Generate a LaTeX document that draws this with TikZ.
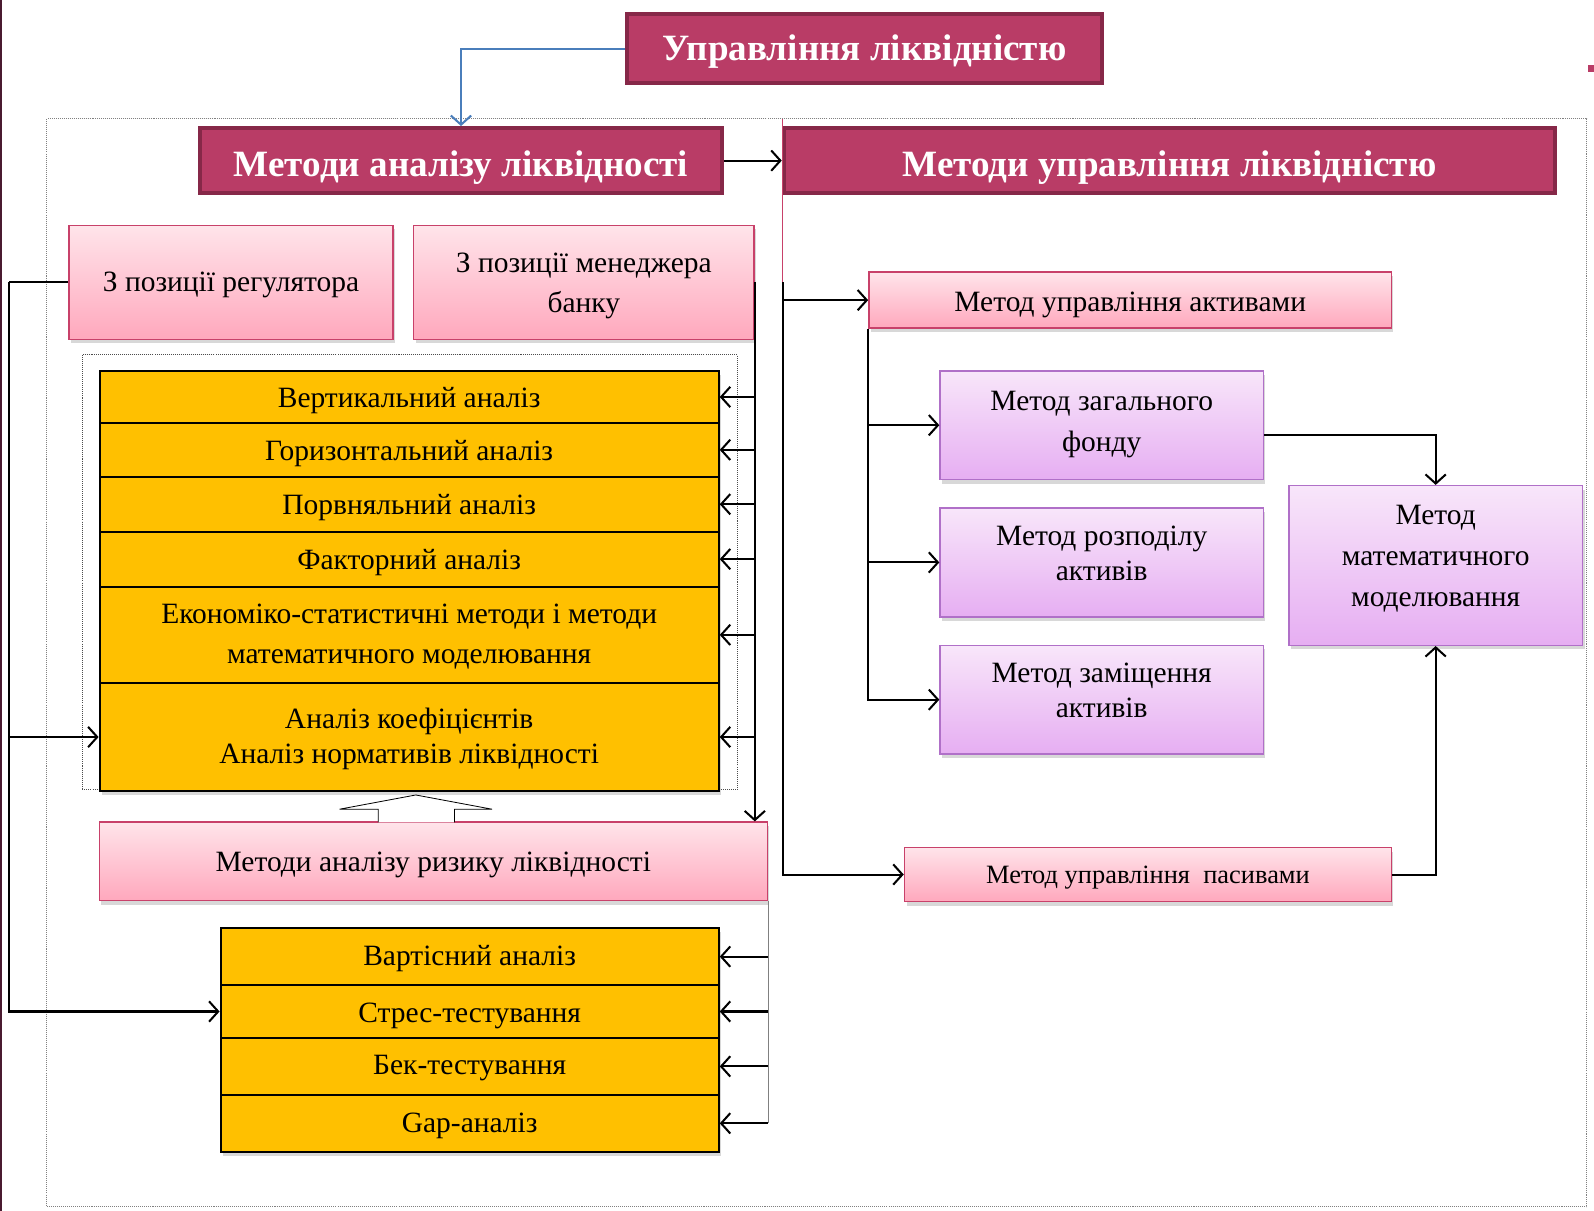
\documentclass[tikz,border=0pt]{standalone}
\usepackage{fontspec}
\setmainfont{Liberation Serif}
\usetikzlibrary{arrows.meta,shadows,calc}
\definecolor{titlefill}{HTML}{B93C66}
\definecolor{titleborder}{HTML}{862848}
\definecolor{pinktop}{HTML}{FFE4EA}
\definecolor{pinkbot}{HTML}{FFA8BD}
\definecolor{pinkborder}{HTML}{C8416A}
\definecolor{purptop}{HTML}{F8E6FA}
\definecolor{purpbot}{HTML}{E6AEF2}
\definecolor{purpborder}{HTML}{B070C8}
\definecolor{ygold}{HTML}{FFC000}
\definecolor{bluelink}{HTML}{4A7EBB}
\definecolor{edgedark}{HTML}{4A1A30}
\newcommand\bodyfnt{\fontsize{29}{40}\selectfont}
\newcommand\smallfnt{\fontsize{26}{34}\selectfont}
\newcommand\titlefnt{\fontsize{36.5}{40}\selectfont\bfseries}
\newcommand\tx[2]{\raisebox{#1}[\height][\depth]{\begin{tabular}{@{}c@{}}#2\end{tabular}}}
\begin{document}
\begin{tikzpicture}[x=1pt,y=-1pt,
  boxbase/.style={inner sep=0pt, anchor=north west, align=center},
  titlebox/.style={boxbase, draw=titleborder, line width=4pt, fill=titlefill, text=white, font=\titlefnt},
  pinkbox/.style={boxbase, draw=pinkborder, line width=1.5pt, top color=pinktop, bottom color=pinkbot, font=\bodyfnt,
     drop shadow={shadow xshift=2pt, shadow yshift=-4pt, opacity=0.3, fill=gray}},
  purpbox/.style={boxbase, draw=purpborder, line width=1.5pt, top color=purptop, bottom color=purpbot, font=\bodyfnt,
     drop shadow={shadow xshift=2pt, shadow yshift=-4pt, opacity=0.3, fill=gray}},
  ybox/.style={boxbase, draw=black, line width=2pt, fill=ygold, font=\bodyfnt,
     drop shadow={shadow xshift=2pt, shadow yshift=-4pt, opacity=0.3, fill=gray}},
  conn/.style={draw=black, line width=2pt, -{Straight Barb[length=9pt,width=20pt,line width=2pt]}},
  line/.style={draw=black, line width=2pt}
]
\useasboundingbox (0,0) rectangle (1568,1191);
\fill[white] (0,0) rectangle (1568,1191);
% slide decorations
\draw[edgedark, line width=2pt] (1,0) -- (1,1191);
\fill[titlefill] (1562,64) rectangle (1568,71);
% frames
\draw[gray, densely dotted, line width=1pt] (46,117) rectangle (1561,1187);
\draw[black!70, densely dotted, line width=1pt] (81,349) rectangle (725,777);

% titles
\node[titlebox, minimum width=467pt, minimum height=68pt] (T) at (615,12) {\tx{-4pt}{Управління ліквідністю}};
\node[titlebox, minimum width=513pt, minimum height=64pt] (A) at (195,124) {\tx{-7.5pt}{Методи аналізу ліквідності}};
\node[titlebox, minimum width=759pt, minimum height=64pt] (M) at (769,124) {\tx{-7.5pt}{Методи управління ліквідністю}};

% left top boxes
\node[pinkbox, minimum width=319pt, minimum height=112pt] (R) at (67,221) {\tx{-0.5pt}{З позиції регулятора}};
\node[pinkbox, minimum width=335pt, minimum height=112pt] (B) at (406,221) {\tx{-2pt}{З позиції менеджера\\банку}};

% yellow stack
\node[ybox, minimum width=609pt, minimum height=51pt] (y1) at (97,364) {\tx{-2pt}{Вертикальний аналіз}};
\node[ybox, minimum width=609pt, minimum height=53pt] (y2) at (97,415) {\tx{-2pt}{Горизонтальний аналіз}};
\node[ybox, minimum width=609pt, minimum height=54pt] (y3) at (97,468) {\tx{-2.5pt}{Порвняльний аналіз}};
\node[ybox, minimum width=609pt, minimum height=54pt] (y4) at (97,522) {\tx{-2.5pt}{Факторний аналіз}};
\node[ybox, minimum width=609pt, minimum height=95pt] (y5) at (97,576) {\tx{-0.5pt}{Економіко-статистичні методи і методи\\математичного моделювання}};
\node[ybox, minimum width=609pt, minimum height=106pt, font=\fontsize{29}{35}\selectfont] (y6) at (97,671) {\tx{-2pt}{Аналіз коефіцієнтів\\Аналіз нормативів ліквідності}};

% risk box
\node[pinkbox, minimum width=657pt, minimum height=77pt] (risk) at (97,808) {\tx{-2pt}{Методи аналізу ризику ліквідності}};

% hollow block arrow
\draw[black, line width=0.8pt, fill=white] (372,809) -- (372,796) -- (334,796) -- (409,782) -- (484,796) -- (447,796) -- (447,809);

% lower yellow stack
\node[ybox, minimum width=490pt, minimum height=56pt] (z1) at (216,912) {\tx{-0.5pt}{Вартісний аналіз}};
\node[ybox, minimum width=490pt, minimum height=52pt] (z2) at (216,968) {\tx{-2.5pt}{Стрес-тестування}};
\node[ybox, minimum width=490pt, minimum height=56pt] (z3) at (216,1020) {\tx{0.5pt}{Бек-тестування}};
\node[ybox, minimum width=490pt, minimum height=56pt] (z4) at (216,1076) {\tx{-1.5pt}{Gap-аналіз}};

% right side
\node[pinkbox, minimum width=514pt, minimum height=55pt] (MA) at (854,267) {\tx{-3pt}{Метод управління активами}};
\node[purpbox, minimum width=318pt, minimum height=107pt] (p1) at (924,364) {\tx{2.5pt}{Метод загального\\фонду}};
\node[purpbox, minimum width=318pt, minimum height=107pt, font=\fontsize{29}{34}\selectfont] (p2) at (924,499) {\tx{6pt}{Метод розподілу\\активів}};
\node[purpbox, minimum width=318pt, minimum height=107pt, font=\fontsize{29}{34}\selectfont] (p3) at (924,634) {\tx{6.5pt}{Метод заміщення\\активів}};
\node[purpbox, minimum width=289pt, minimum height=157pt] (mm) at (1267,477) {\tx{8pt}{Метод\\математичного\\моделювання}};
\node[pinkbox, minimum width=479pt, minimum height=53pt, font=\smallfnt] (MP) at (889,833) {\tx{-2pt}{Метод управління\ \ пасивами}};

% connectors
\draw[bluelink, line width=2pt, -{Straight Barb[length=9pt,width=20pt,line width=2pt]}] (T.west) -| (A.north);
\draw[conn] (A.east) -- (M.west);

% left regulator line
\draw[line] (R.west) -- ++(-58,0) coordinate (L1);
\draw[conn] (L1) |- (z2.west);
\draw[conn] (L1 |- y6.west) -- (y6.west);

% manager line
\draw[conn] (B.east) -- (B.east |- risk.north);
\foreach \n in {y1,y2,y3,y4,y5,y6}{
  \draw[conn] (B.east |- \n.east) -- (\n.east);
}

% risk lines
\draw[gray, line width=1pt] (risk.south east) -- (risk.south east |- z4.east);
\foreach \n in {z1,z2,z3,z4}{
  \draw[conn] (risk.south east |- \n.east) -- (\n.east);
}

% management vertical
\draw[pinkborder, line width=1pt] ($(M.west |- 0,117)+(1,0)$) -- ($(M.west |- B.east)+(1,0)$);
\draw[conn] ($(M.west |- B.east)+(1,0)$) |- (MP.west);
\draw[conn] ($(M.west |- MA.west)+(1,0)$) -- (MA.west);

% assets branch
\draw[conn] (MA.south west) |- (p3.west);
\draw[conn] (MA.south west |- p1.west) -- (p1.west);
\draw[conn] (MA.south west |- p2.west) -- (p2.west);

\draw[conn] ($(p1.east)+(0,10)$) -| (mm.north);
\draw[conn] (MP.east) -| (mm.south);
\end{tikzpicture}
\end{document}
